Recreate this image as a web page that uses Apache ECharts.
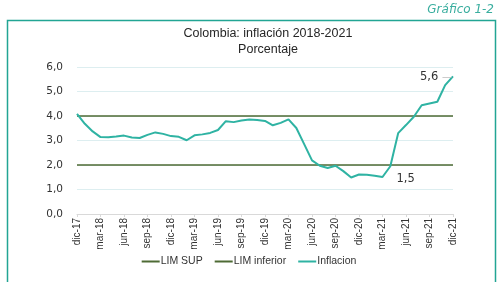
<!DOCTYPE html>
<html>
<head>
<meta charset="utf-8">
<script src="https://cdn.jsdelivr.net/npm/echarts@6/dist/echarts.min.js"></script>
<style>
  html, body { margin: 0; padding: 0; background: #ffffff; }
  #chart { width: 498px; height: 282px; }
</style>
</head>
<body>
<div id="chart"></div>
<script>
// months dic-17 .. dic-21
const months = [
  'dic-17',
  'ene-18', 'feb-18', 'mar-18', 'abr-18', 'may-18', 'jun-18', 'jul-18', 'ago-18', 'sep-18', 'oct-18', 'nov-18', 'dic-18',
  'ene-19', 'feb-19', 'mar-19', 'abr-19', 'may-19', 'jun-19', 'jul-19', 'ago-19', 'sep-19', 'oct-19', 'nov-19', 'dic-19',
  'ene-20', 'feb-20', 'mar-20', 'abr-20', 'may-20', 'jun-20', 'jul-20', 'ago-20', 'sep-20', 'oct-20', 'nov-20', 'dic-20',
  'ene-21', 'feb-21', 'mar-21', 'abr-21', 'may-21', 'jun-21', 'jul-21', 'ago-21', 'sep-21', 'oct-21', 'nov-21', 'dic-21'
];

const inflacion = [
  4.09,
  3.68, 3.37, 3.14, 3.13, 3.16, 3.20, 3.12, 3.10, 3.23, 3.33, 3.27, 3.18,
  3.15, 3.01, 3.21, 3.25, 3.31, 3.43, 3.79, 3.75, 3.82, 3.86, 3.84, 3.80,
  3.62, 3.72, 3.86, 3.51, 2.85, 2.19, 1.97, 1.88, 1.97, 1.75, 1.49, 1.61,
  1.60, 1.56, 1.51, 1.95, 3.30, 3.63, 3.97, 4.44, 4.51, 4.58, 5.26, 5.62
];

const limSupValue = 4;
const limInfValue = 2;
const limSup = months.map(() => limSupValue);
const limInf = months.map(() => limInfValue);

// which points get a value label
const labeledPoints = { 'mar-21': 'right', 'dic-21': 'left' };

const yTicks = { min: 0, max: 6, interval: 1 };

const chart = echarts.init(document.getElementById('chart'), null, { renderer: 'canvas' });

const fmt = v => v.toFixed(1).replace('.', ',');

const inflData = inflacion.map((v, i) => {
  const pos = labeledPoints[months[i]];
  if (!pos) return v;
  return {
    value: v,
    label: {
      show: true,
      position: pos,
      distance: pos === 'left' ? 1 : 14,
      // the 5,6 label has a short grey leader to the point
      formatter: pos === 'left' ? (p => '{t|' + fmt(p.value) + '} {l|—}') : (p => fmt(p.value)),
      rich: {
        t: { fontSize: 11.5, color: '#333', fontFamily: 'DejaVu Sans' },
        l: { fontSize: 10, color: '#bdbdbd', fontFamily: 'DejaVu Sans' }
      },
      fontSize: 11.5,
      color: '#333',
      fontFamily: 'DejaVu Sans',
      offset: pos === 'right' ? [0, 2] : [0, 1]
    }
  };
});

const option = {
  backgroundColor: '#ffffff',
  animation: false,
  graphic: [
    {
      type: 'rect',
      shape: { x: 7.5, y: 20.5, width: 488, height: 300 },
      style: { fill: 'none', stroke: '#22a594', lineWidth: 1.5 },
      silent: true
    },
    {
      type: 'text',
      right: 4,
      top: 4,
      style: {
        text: 'Gráfico 1-2',
        fill: '#3aae9f',
        font: 'italic 12px "DejaVu Sans"'
      }
    }
  ],
  title: {
    text: 'Colombia: inflación 2018-2021\nPorcentaje',
    left: 263,
    textAlign: 'center',
    top: 21,
    textStyle: {
      fontSize: 12.5,
      fontWeight: 'normal',
      color: '#262626',
      fontFamily: 'Liberation Sans',
      lineHeight: 16
    }
  },
  legend: {
    bottom: 10,
    left: 'center',
    itemWidth: 18,
    itemHeight: 2,
    itemGap: 12,
    icon: 'rect',
    textStyle: { fontSize: 10.5, color: '#333', fontFamily: 'Liberation Sans', padding: [0, 0, 0, -4] },
    data: ['LIM SUP', 'LIM inferior', 'Inflacion']
  },
  grid: { left: 77, right: 45, top: 67, bottom: 68 },
  xAxis: {
    type: 'category',
    data: months,
    boundaryGap: false,
    axisLine: { lineStyle: { color: '#d9d9d9' } },
    axisTick: { show: true, interval: 2, length: 3, lineStyle: { color: '#d9d9d9' } },
    axisLabel: {
      interval: 2,
      rotate: 90,
      fontSize: 10,
      color: '#333',
      fontFamily: 'Liberation Sans',
      margin: 4
    },
    splitLine: { show: false }
  },
  yAxis: {
    type: 'value',
    min: yTicks.min,
    max: yTicks.max,
    interval: yTicks.interval,
    axisLine: { show: false },
    axisTick: { show: false },
    axisLabel: {
      formatter: fmt,
      fontSize: 10.5,
      color: '#333',
      fontFamily: 'DejaVu Sans',
      margin: 14
    },
    splitLine: { lineStyle: { color: '#ddeef0' } }
  },
  series: [
    {
      name: 'LIM SUP',
      type: 'line',
      data: limSup,
      symbol: 'none',
      lineStyle: { color: '#4e6b35', width: 1.5 },
      itemStyle: { color: '#4e6b35' },
      z: 2
    },
    {
      name: 'LIM inferior',
      type: 'line',
      data: limInf,
      symbol: 'none',
      lineStyle: { color: '#4e6b35', width: 1.5 },
      itemStyle: { color: '#4e6b35' },
      z: 2
    },
    {
      name: 'Inflacion',
      type: 'line',
      data: inflData,
      symbol: 'circle',
      symbolSize: 0.1,
      showSymbol: true,
      lineStyle: { color: '#2fb3a3', width: 2 },
      itemStyle: { color: '#2fb3a3' },
      z: 3
    }
  ]
};

chart.setOption(option);
</script>
</body>
</html>
